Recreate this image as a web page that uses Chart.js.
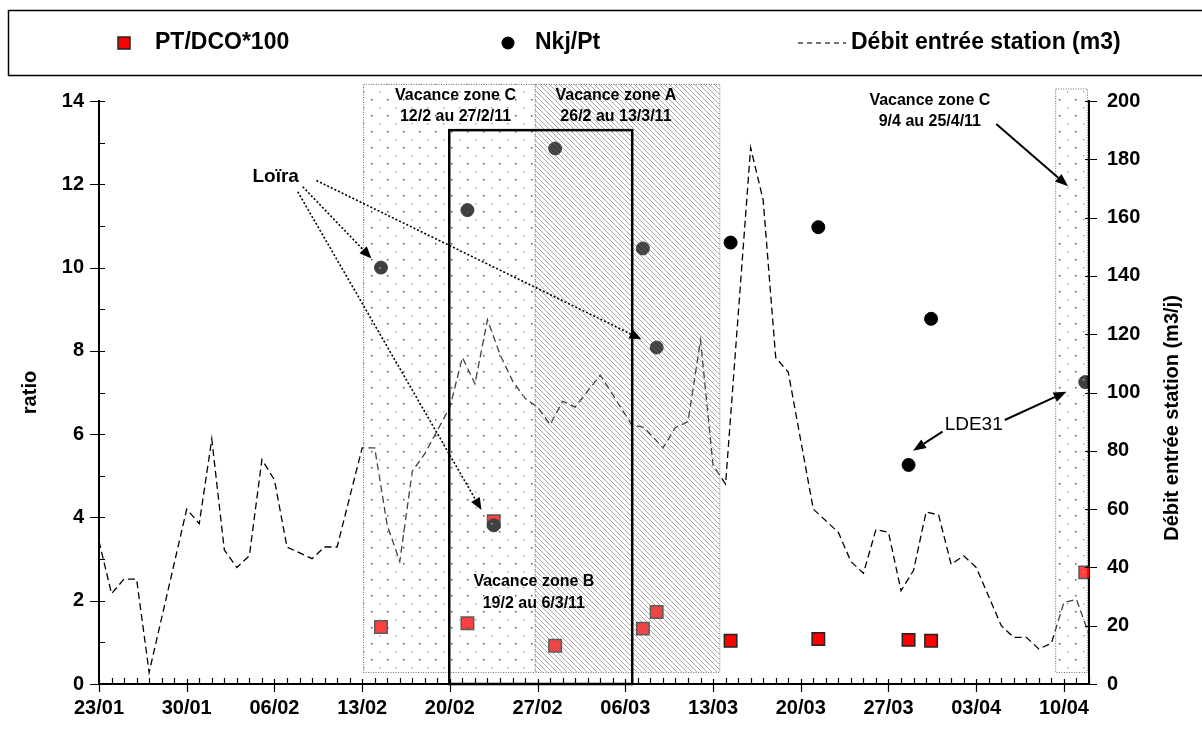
<!DOCTYPE html>
<html><head><meta charset="utf-8">
<script src="https://cdn.jsdelivr.net/npm/chart.js@4"></script>
<style>html,body{margin:0;padding:0;background:#fff}#wrap{width:1202px;height:731px}</style>
</head><body><div id="wrap"><canvas id="c" width="1202" height="731"></canvas></div>
<script>
// ---- data (x = days since 23/01/2011) ----
const xTickLabels = ['23/01','30/01','06/02','13/02','20/02','27/02','06/03','13/03','20/03','27/03','03/04','10/04'];
const seriesNames = ['PT/DCO*100','Nkj/Pt','Débit entrée station (m3)'];
const ptDays   = [22.5,29.4,31.5,36.4,43.4,44.5,50.4,57.4,64.6,66.4,78.7];
const ptValues = [1.37,1.46,3.91,0.92,1.33,1.73,1.04,1.08,1.06,1.04,2.68];
const nkjDays   = [22.5,29.4,31.5,36.4,43.4,44.5,50.4,57.4,64.6,66.4,78.7];
const nkjValues = [10.0,11.38,3.81,12.86,10.46,8.08,10.6,10.97,5.26,8.77,7.25];
const debitDays = [0,1,2,3,4,7,8,9,10,11,12,13,14,15,17,18,19,21,22,23,24,25,26,27,28,29,30,31,32,33,34,35,36,37,38,40,42.5,43.5,45,46,47,48,49,50,52,53,54,55,57,58,59,60,61,62,63,64,65,66,67,68,69,70,72,73,74,75,76,77,78,79];
const debitValues = [49,31,36,36,4,60,55,84,46,40,44,77,70,47,43,47,47,81,81,54.5,42,73,79,87,95,112,103,125,113,104,98,95,89,97,95,106,89,88,81,88,90,118,75,68.6,184,166,112,107,60,56,52,42,38,53,52,32,39,59,58,41,44,40,20,16,16,12,14,28,29,17];
// holiday periods (days)
const zoneNames  = ['Vacance zone C','Vacance zone A','Vacance zone B','Vacance zone C'];
const zoneDates  = ['12/2 au 27/2/11','26/2 au 13/3/11','19/2 au 6/3/11','9/4 au 25/4/11'];
const zoneStart  = [21.07,34.77,27.95,76.3];
const zoneEnd    = [34.77,49.5,42.55,78.83];
const annotLoira = 'Loïra';
const annotLDE = 'LDE31';

const FONT = '"Liberation Sans", Arial, sans-serif';

function makeDots(){
  const c=document.createElement('canvas');c.width=16;c.height=16;const g=c.getContext('2d');
  g.fillStyle='rgba(255,255,255,0.25)';g.fillRect(0,0,16,16);
  g.fillStyle='#555';g.fillRect(3,3,1.5,1.5);
  g.fillStyle='#aaa';g.fillRect(11,11,1.5,1.5);
  return c;
}
function makeHatch(){
  const s=5;const c=document.createElement('canvas');c.width=s;c.height=s;const g=c.getContext('2d');
  g.fillStyle='rgba(255,255,255,0.25)';g.fillRect(0,0,s,s);
  g.strokeStyle='rgba(110,110,110,0.6)';g.lineWidth=1;
  g.beginPath();g.moveTo(-1,-1);g.lineTo(s+1,s+1);g.moveTo(-1,s-1);g.lineTo(1,s+1);g.moveTo(s-1,-1);g.lineTo(s+1,1);g.stroke();
  return c;
}

function arrow(ctx,x1,y1,x2,y2,opt){
  ctx.save();
  ctx.strokeStyle='#000';ctx.fillStyle='#000';ctx.lineWidth=opt.w;
  ctx.setLineDash(opt.dash||[]);
  const a=Math.atan2(y2-y1,x2-x1);const hl=opt.hl, hw=opt.hw;
  const bx=x2-hl*Math.cos(a), by=y2-hl*Math.sin(a);
  ctx.beginPath();ctx.moveTo(x1,y1);ctx.lineTo(bx,by);ctx.stroke();
  ctx.setLineDash([]);
  ctx.beginPath();ctx.moveTo(x2,y2);
  ctx.lineTo(bx+hw*Math.sin(a),by-hw*Math.cos(a));
  ctx.lineTo(bx-hw*Math.sin(a),by+hw*Math.cos(a));ctx.closePath();ctx.fill();
  ctx.restore();
}

const decor={
  id:'decor',
  beforeDraw(chart){const ctx=chart.ctx;ctx.save();ctx.fillStyle='#fff';ctx.fillRect(0,0,chart.width,chart.height);ctx.restore();},
  afterDatasetsDraw(chart){
    const ctx=chart.ctx, X=chart.scales.x, Y=chart.scales.y, Y1=chart.scales.y1;
    const px=v=>X.getPixelForValue(v), py=v=>Y.getPixelForValue(v);
    const dots=ctx.createPattern(makeDots(),'repeat'), hatch=ctx.createPattern(makeHatch(),'repeat');
    ctx.save();
    const yT=py(14.41), yB=py(0.29);
    ctx.fillStyle=dots;ctx.fillRect(px(zoneStart[0]),yT,px(zoneEnd[0])-px(zoneStart[0]),yB-yT);
    ctx.fillStyle=hatch;ctx.fillRect(px(zoneStart[1]),yT,px(zoneEnd[1])-px(zoneStart[1]),yB-yT);
    const yT2=py(14.3);
    ctx.fillStyle=dots;ctx.fillRect(px(zoneStart[3]),yT2,px(zoneEnd[3])-px(zoneStart[3]),yB-yT2);
    ctx.strokeStyle='#666';ctx.lineWidth=1;ctx.setLineDash([1,1.5]);
    ctx.strokeRect(px(zoneStart[0])+0.5,yT+0.5,px(zoneEnd[1])-px(zoneStart[0]),yB-yT);
    ctx.beginPath();ctx.moveTo(px(zoneStart[1])+0.5,yT);ctx.lineTo(px(zoneStart[1])+0.5,yB);ctx.stroke();
    ctx.strokeRect(px(zoneStart[3])+0.5,yT2+0.5,px(zoneEnd[3])-px(zoneStart[3]),yB-yT2);
    ctx.setLineDash([]);
    ctx.strokeStyle='#000';ctx.lineWidth=2.5;
    ctx.strokeRect(px(zoneStart[2]),py(13.3),px(zoneEnd[2])-px(zoneStart[2]),py(0)-py(13.3));
    ctx.lineWidth=1.2;ctx.strokeStyle='#000';
    const L=chart.chartArea.left,R=chart.chartArea.right,B=chart.chartArea.bottom;
    ctx.beginPath();
    for(let d=0;d<=79;d++){const x=Math.round(px(d))+0.5;
      if(d%7===0){ctx.moveTo(x,B-5);ctx.lineTo(x,B+8);}else{ctx.moveTo(x,B-6);ctx.lineTo(x,B);} }
    for(let v=0;v<=14;v++){const y=Math.round(py(v))+0.5;
      if(v%2===0){ctx.moveTo(L-9,y);ctx.lineTo(L+6,y);}else{ctx.moveTo(L,y);ctx.lineTo(L+6,y);} }
    for(let v=0;v<=200;v+=20){const y=Math.round(Y1.getPixelForValue(v))+0.5;ctx.moveTo(R-4,y);ctx.lineTo(R+8,y);}
    ctx.stroke();
    ctx.fillStyle='#000';ctx.textAlign='center';ctx.textBaseline='middle';
    ctx.font='bold 16px '+FONT;
    ctx.fillText(zoneNames[0],px(28.45),py(14.13));ctx.fillText(zoneDates[0],px(28.45),py(13.62));
    ctx.fillText(zoneNames[1],px(41.25),py(14.13));ctx.fillText(zoneDates[1],px(41.25),py(13.62));
    ctx.fillText(zoneNames[2],px(34.7),py(2.46));ctx.fillText(zoneDates[2],px(34.7),py(1.92));
    ctx.fillText(zoneNames[3],px(66.3),py(14.02));ctx.fillText(zoneDates[3],px(66.3),py(13.5));
    arrow(ctx,px(71.6),py(13.45),px(77.33),py(11.95),{w:2,hl:13,hw:5});
    ctx.font='bold 19px '+FONT;
    ctx.fillText(annotLoira,px(14.1),py(12.18));
    const dot={w:1.6,dash:[2,2],hl:12,hw:5};
    arrow(ctx,px(17.35),py(12.09),px(43.29),py(8.28),dot);
    arrow(ctx,px(16.26),py(11.94),px(21.74),py(10.22),dot);
    arrow(ctx,px(15.86),py(11.82),px(30.52),py(4.18),dot);
    ctx.font='19px '+FONT;
    ctx.fillText(annotLDE,px(69.8),py(6.22));
    arrow(ctx,px(67.31),py(6.06),px(64.96),py(5.60),{w:2,hl:13,hw:5});
    arrow(ctx,px(72.28),py(6.34),px(77.21),py(7.02),{w:2,hl:13,hw:5});
    ctx.font='bold 20px '+FONT;
    ctx.save();ctx.translate(30,(chart.chartArea.top+B)/2);ctx.rotate(-Math.PI/2);ctx.fillText('ratio',0,0);ctx.restore();
    ctx.save();ctx.translate(1172,418);ctx.rotate(-Math.PI/2);ctx.fillText('Débit entrée station (m3/j)',0,0);ctx.restore();
    ctx.strokeStyle='#000';ctx.lineWidth=1.5;ctx.strokeRect(8.5,10.5,1210,65);
    const ly=43;
    ctx.fillStyle='#ff0000';ctx.fillRect(118,ly-6,12,12);ctx.strokeStyle='#222';ctx.lineWidth=1.5;ctx.strokeRect(118,ly-6,12,12);
    ctx.fillStyle='#000';ctx.beginPath();ctx.arc(508,ly,6.5,0,Math.PI*2);ctx.fill();
    ctx.strokeStyle='#444';ctx.lineWidth=1.3;ctx.setLineDash([5,4]);ctx.beginPath();ctx.moveTo(798,ly);ctx.lineTo(846,ly);ctx.stroke();ctx.setLineDash([]);
    ctx.font='bold 23px '+FONT;ctx.textAlign='left';ctx.fillStyle='#000';
    ctx.fillText(seriesNames[0],155,ly);ctx.fillText(seriesNames[1],535,ly);ctx.fillText(seriesNames[2],851,ly);
    ctx.restore();
  }
};

const tickFont={family:FONT,size:20,weight:'bold'};
new Chart(document.getElementById('c'),{
  type:'scatter',
  data:{datasets:[
    {label:seriesNames[1],data:nkjDays.map((d,i)=>({x:d,y:nkjValues[i]})),yAxisID:'y',pointStyle:'circle',pointRadius:6.5,backgroundColor:'#000',borderColor:'#000',borderWidth:1,order:1},
    {label:seriesNames[0],data:ptDays.map((d,i)=>({x:d,y:ptValues[i]})),yAxisID:'y',pointStyle:'rect',pointRadius:8.8,backgroundColor:'#ff0000',borderColor:'#222',borderWidth:1.5,order:2},
    {type:'line',label:seriesNames[2],data:debitDays.map((d,i)=>({x:d,y:debitValues[i]})),yAxisID:'y1',borderColor:'#000',borderWidth:1.3,borderDash:[7,4],pointRadius:0,fill:false,tension:0,showLine:true,order:3}
  ]},
  options:{
    responsive:false,devicePixelRatio:1,animation:false,
    layout:{padding:{top:101,left:0,right:0,bottom:0}},
    plugins:{legend:{display:false},tooltip:{enabled:false}},
    scales:{
      x:{type:'linear',min:0,max:79,
        ticks:{stepSize:7,includeBounds:false,autoSkip:false,maxRotation:0,color:'#000',font:tickFont,padding:12,
          callback:v=>(v%7===0&&xTickLabels[v/7]!==undefined)?xTickLabels[v/7]:''},
        grid:{display:false,drawTicks:false},border:{display:true,color:'#000',width:2},
        afterFit:s=>{s.height=47;}},
      y:{position:'left',min:0,max:14,
        ticks:{stepSize:2,color:'#000',font:tickFont,padding:15},
        grid:{display:false,drawTicks:false},border:{display:true,color:'#000',width:2},
        afterFit:s=>{s.width=99;}},
      y1:{position:'right',min:0,max:200,
        ticks:{stepSize:20,color:'#000',font:tickFont,padding:18},
        grid:{display:false,drawTicks:false},border:{display:true,color:'#000',width:2},
        afterFit:s=>{s.width=113;}}
    }
  },
  plugins:[decor]
});
</script></body></html>
